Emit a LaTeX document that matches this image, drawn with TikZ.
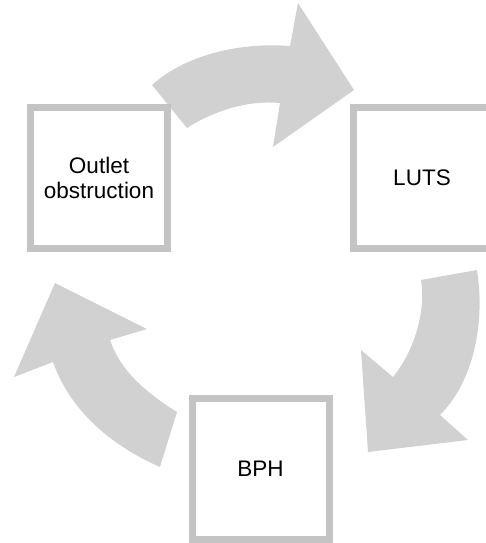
\documentclass[tikz,border=0pt]{standalone}
\usepackage{fontspec}
\setmainfont{Liberation Sans}
\usepackage{tikz}
\usetikzlibrary{calc}

\begin{document}
\begin{tikzpicture}[x=1pt, y=-1pt,
    box/.style={draw=black!23, line width=7pt, fill=white, minimum width=137pt,
      minimum height=141pt, align=center, inner sep=0pt,
      font=\fontsize{22.5}{25}\selectfont},
    bigarrow/.style={fill=black!18, draw=none}]
  \useasboundingbox (0,0) rectangle (485,543);

  \coordinate (T1) at (354, 90);
  \coordinate (T2) at (368, 452);
  \coordinate (T3) at (55, 283);

  % top arrow
  \fill[bigarrow] (152, 85) .. controls (185, 55) and (240, 42) .. (290, 46)
    -- (298, 3) -- (T1) -- (273, 147) -- (280, 103)
    .. controls (250, 100) and (215, 110) .. (187, 128) -- cycle;
  % right arrow
  \fill[bigarrow] (477, 270) .. controls (485, 320) and (475, 380) .. (440, 415)
    -- (468, 440) -- (T2) -- (361, 350) -- (393, 377)
    .. controls (415, 350) and (426, 310) .. (421, 280) -- cycle;
  % left arrow
  \fill[bigarrow] (160, 467) .. controls (110, 445) and (70, 410) .. (53, 362)
    -- (14, 377) -- (T3) -- (147, 329) -- (110, 340)
    .. controls (120, 370) and (145, 392) .. (177, 412) -- cycle;

  \node[box] (outlet) at (99, 178) {Outlet\\obstruction};
  \node[box] (luts) at (422, 178) {LUTS};
  \node[box] (bph) at (260.5, 469) {BPH};
\end{tikzpicture}
\end{document}
